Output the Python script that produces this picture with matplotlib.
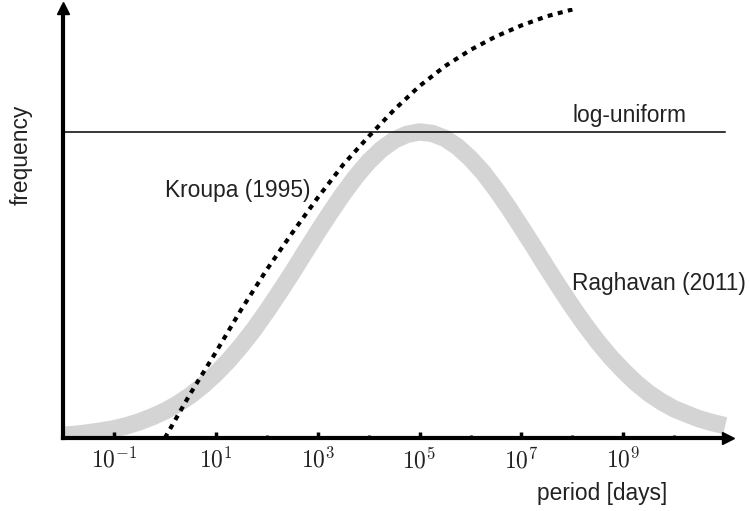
import numpy as np
import matplotlib
matplotlib.use("Agg")
import matplotlib.pyplot as plt
from matplotlib.ticker import FixedLocator, NullFormatter

plt.rcParams["font.family"] = ["Liberation Sans", "DejaVu Sans"]
plt.rcParams["mathtext.fontset"] = "cm"

# log10(period / days) sampling for each distribution
raghavan_logp = [-2.0, -1.75, -1.5, -1.25, -1.0, -0.75, -0.5, -0.25, 0.0,
                 0.25, 0.5, 0.75, 1.0, 1.25, 1.5, 1.75, 2.0, 2.25, 2.5, 2.75,
                 3.0, 3.25, 3.5, 3.75, 4.0, 4.25, 4.5, 4.75, 5.0, 5.25, 5.5,
                 5.75, 6.0, 6.25, 6.5, 6.75, 7.0, 7.25, 7.5, 7.75, 8.0, 8.25,
                 8.5, 8.75, 9.0, 9.25, 9.5, 9.75, 10.0, 10.25, 10.5, 10.75,
                 11.0]
raghavan_freq = [0.009, 0.012, 0.017, 0.023, 0.030, 0.040, 0.053, 0.069, 0.088,
                 0.111, 0.139, 0.172, 0.210, 0.253, 0.302, 0.355, 0.414, 0.476,
                 0.540, 0.607, 0.673, 0.737, 0.798, 0.854, 0.903, 0.943, 0.973,
                 0.992, 1.000, 0.995, 0.979, 0.951, 0.913, 0.867, 0.812, 0.752,
                 0.688, 0.623, 0.556, 0.491, 0.428, 0.369, 0.314, 0.264, 0.220,
                 0.180, 0.146, 0.118, 0.095, 0.078, 0.062, 0.050, 0.040]

kroupa_logp = [0.0, 0.5, 1.0, 1.5, 2.0, 2.5, 3.0, 3.5, 4.0, 4.5, 5.0, 5.5,
               6.0, 6.5, 7.0, 7.5, 8.0]
kroupa_freq = [0.0, 0.145, 0.28, 0.42, 0.55, 0.67, 0.785, 0.893, 0.985, 1.072,
               1.15, 1.215, 1.268, 1.312, 1.348, 1.378, 1.40]

uniform_logp = [-2.0, 11.0]
uniform_freq = [1.0, 1.0]

major_exponents = [-1, 1, 3, 5, 7, 9]
minor_exponents = [0, 2, 4, 6, 8, 10]

fig = plt.figure(figsize=(7.5, 5.11), dpi=100)
ax = fig.add_axes([0.084, 0.1429, 0.887, 0.8415])

to_period = lambda lp: np.power(10.0, np.asarray(lp, dtype=float))

ax.plot(to_period(raghavan_logp), raghavan_freq, color="#d4d4d4", lw=12.5,
        solid_capstyle="butt", solid_joinstyle="round", zorder=1)
ax.plot(to_period(uniform_logp), uniform_freq, color="black", lw=1.1, zorder=2)
ax.plot(to_period(kroupa_logp), kroupa_freq, color="black", lw=3,
        linestyle=(0, (1.2, 1.3)), dash_capstyle="butt", zorder=3)

ax.set_xscale("log")
ax.set_xlim(10 ** -2.0, 10 ** 11.06)
ax.set_ylim(0, 1.405)

for side in ("top", "right"):
    ax.spines[side].set_visible(False)
for side in ("left", "bottom"):
    ax.spines[side].set_linewidth(3)

# arrow heads on the axes
ax.plot(1, 0, marker=">", color="black", markersize=9, transform=ax.transAxes,
        clip_on=False, zorder=5)
ax.plot(0, 1, marker="^", color="black", markersize=9, transform=ax.transAxes,
        clip_on=False, zorder=5)

ax.xaxis.set_major_locator(FixedLocator([10.0 ** e for e in major_exponents]))
ax.xaxis.set_minor_locator(FixedLocator([10.0 ** e for e in minor_exponents]))
ax.xaxis.set_minor_formatter(NullFormatter())
ax.set_xticklabels([r"$10^{%d}$" % e for e in major_exponents], fontsize=17,
                   color="#222222")
ax.tick_params(axis="x", which="major", direction="in", length=4, width=2.5,
               pad=7)
ax.tick_params(axis="x", which="minor", direction="in", length=2, width=2)
ax.set_yticks([])

ax.set_xlabel("period [days]", fontsize=16.4, color="#222222")
ax.xaxis.set_label_coords(0.81, -0.103)
ax.set_ylabel("frequency", fontsize=16.4, color="#222222")
ax.yaxis.set_label_coords(-0.045, 0.658)

ax.text(10 ** 8.0, 1.016, "log-uniform", fontsize=16.4, color="#222222",
        va="bottom", ha="left")
ax.text(10 ** 0.0, 0.81, "Kroupa (1995)", fontsize=16.4, color="#222222",
        va="center", ha="left")
ax.text(10 ** 8.0, 0.505, "Raghavan (2011)", fontsize=16.4, color="#222222",
        va="center", ha="left")

fig.savefig("out.png", dpi=100)
